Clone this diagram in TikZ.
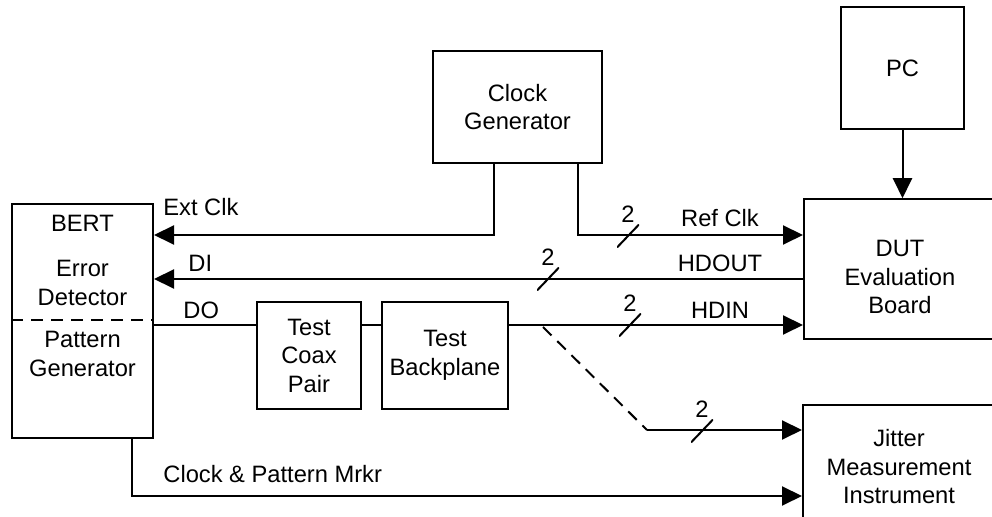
\documentclass[tikz,border=0pt]{standalone}
\usepackage{fontspec}
\setmainfont{Liberation Sans}
\usetikzlibrary{arrows.meta}
\begin{document}
\begin{tikzpicture}
                [x=0.5pt, y=-0.5pt, font=\fontsize{11.85}{14.25}\selectfont,
                 box/.style={rectangle, draw, line width=1pt, align=center, inner sep=0pt},
                 lbl/.style={inner sep=0pt},
                 sig/.style={draw, line width=1pt, -{Triangle[length=10pt, width=9.5pt]}},
                 wire/.style={draw, line width=1pt},
                 dashline/.style={draw, line width=1pt, dash pattern=on 6pt off 4pt},
                 busmark/.style={inner sep=0pt, minimum width=11pt, minimum height=11.5pt,
                   path picture={\draw[line width=1pt] (path picture bounding box.south west) -- (path picture bounding box.north east);},
                   label={[lbl, yshift=0.5pt]above:2}}]
                \clip (0,0) rectangle (992,517);
                % Define nodes
                \node[box, minimum width=61.5pt, minimum height=61pt] (pc) at (902.5,68) {PC};
                \node[box, minimum width=84.5pt, minimum height=56pt] (clk) at (517.5,107) {Clock\\Generator};
                \node[box, minimum width=96pt, minimum height=69.75pt] (dut) at (900,269) {};
                \node[box, minimum width=96pt, minimum height=58pt] (jitter) at (899,463) {};
                \node[box, minimum width=70.5pt, minimum height=117pt] (bert) at (82.5,321) {};
                \node[box, minimum width=52pt, minimum height=53.5pt] (coax) at (309,355.5) {Test\\Coax\\Pair};
                \node[box, minimum width=63pt, minimum height=53.5pt] (bkpl) at (445,355.5) {Test\\Backplane};
                \node[lbl, align=center] (dutname) at (900,277) {DUT\\Evaluation\\Board};
                \node[lbl, align=center] (jittername) at (899,467) {Jitter\\Measurement\\Instrument};
                \node[lbl, anchor=base] (bertname) at (82.5,232) {BERT};
                \node[lbl, align=center] (errdet) at (82.5,283) {Error\\Detector};
                \node[lbl, align=center] (patgen) at (82.5,354) {Pattern\\Generator};
                % Define helper points
                \coordinate (split) at (0,320);
                \coordinate (eck) at (494,235);
                \coordinate (rck) at (578,235);
                \coordinate (dly) at (0,279);
                \coordinate (doy) at (0,325);
                \coordinate (tap) at (543,327);
                \coordinate (jt) at (647,430);
                \coordinate (mk) at (132,496);
                % Define edges
                \draw[dashline] (bert.west |- split) -- (bert.east |- split);
                \draw[sig] (clk.south -| eck) -- (eck) -- (bert.east |- eck);
                \draw[sig] (clk.south -| rck) -- (rck) -- (dut.west |- rck);
                \draw[sig] (dut.west |- dly) -- (bert.east |- dly);
                \draw[wire] (bert.east |- doy) -- (coax.west |- doy);
                \draw[wire] (coax.east |- doy) -- (bkpl.west |- doy);
                \draw[sig] (bkpl.east |- doy) -- (dut.west |- doy);
                \draw[dashline] (tap) -- (jt);
                \draw[sig] (jt) -- (jitter.west |- jt);
                \draw[sig] (bert.south -| mk) -- (mk) -- (jitter.west |- mk);
                \draw[sig] (pc.south) -- (pc.south |- dut.north);
                % Define bus marks
                \node[busmark] (bus1) at (628,236) {};
                \node[busmark] (bus2) at (548,279) {};
                \node[busmark] (bus3) at (630,325) {};
                \node[busmark] (bus4) at (702,431) {};
                % Define labels
                \node[lbl, anchor=base west] (extclk) at (163,216) {Ext Clk};
                \node[lbl, anchor=base west] (di) at (188,272) {DI};
                \node[lbl, anchor=base west] (do) at (183,319) {DO};
                \node[lbl, anchor=base] (refclk) at (720,227) {Ref Clk};
                \node[lbl, anchor=base] (hdout) at (720,272) {HDOUT};
                \node[lbl, anchor=base] (hdin) at (720,319) {HDIN};
                \node[lbl, anchor=base west] (mrkr) at (163,483) {Clock \& Pattern Mrkr};
            \end{tikzpicture}
\end{document}
